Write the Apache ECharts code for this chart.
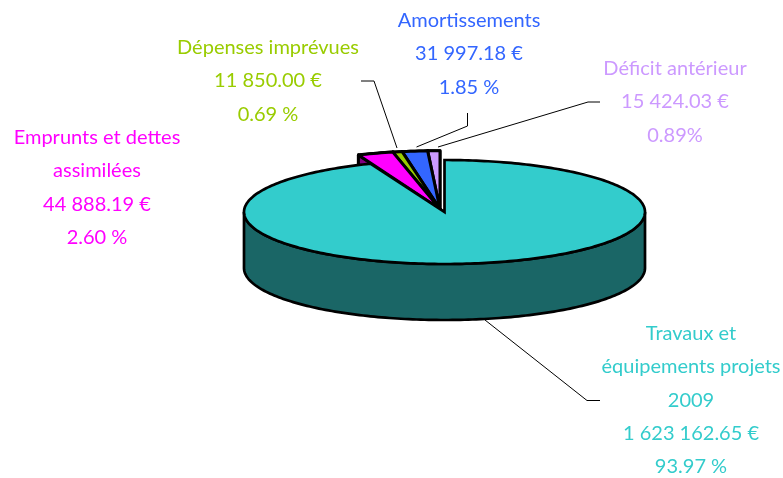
<!DOCTYPE html>
<html>
<head>
<meta charset="utf-8">
<style>
  html, body { margin: 0; padding: 0; background: #fff; }
  #chart { width: 783px; height: 478px; }
</style>
<script src="https://cdn.jsdelivr.net/npm/echarts@6/dist/echarts.min.js"></script>
</head>
<body>
<div id="chart"></div>
<script>
// valeurs, en partant de midi dans le sens horaire
const categories = ['Travaux et équipements projets 2009', 'Emprunts et dettes assimilées', 'Dépenses imprévues', 'Amortissements', 'Déficit antérieur']
const amounts = [1623162.65, 44888.19, 11850.00, 31997.18, 15424.03]
const amountLabels = ['1 623 162.65 €', '44 888.19 €', '11 850.00 €', '31 997.18 €', '15 424.03 €']
const percentLabels = ['93.97 %', '2.60 %', '0.69 %', '1.85 %', '0.89%']
const topColors = ['#33CCCC', '#FF00FF', '#99CC00', '#3366FF', '#CC99FF']
const sideColors = ['#1A6666', '#800080', '#4D6600', '#1A3380', '#664D80']

// géométrie du camembert
const center = [444.5, 212]
const rx = 200.5
const ry = 52
const depth = 56
const explodedApex = [440, 209]
const explodedScaleX = 1.1
const explodedScaleY = 1.12

const total = amounts.reduce((a, b) => a + b, 0)
const startAngles = []
amounts.reduce((acc, v, i) => { startAngles[i] = acc; return acc + v / total * Math.PI * 2 }, 0)

const arcPoints = (cx, cy, a, b, from, to) => {
  const pts = []
  const n = Math.max(2, Math.ceil((to - from) / 0.02))
  for (let i = 0; i <= n; i++) {
    const t = from + (to - from) * i / n
    pts.push([cx + a * Math.sin(t), cy - b * Math.cos(t)])
  }
  return pts
}

const face = (points, fill, lineWidth, lineJoin) => ({
  type: 'polygon',
  shape: { points },
  style: { fill, stroke: '#000', lineWidth, lineJoin }
})

const renderSlice = (params, api) => {
  const i = api.value(0)
  const from = startAngles[i]
  const to = from + api.value(1) / total * Math.PI * 2
  const main = i === 0
  const [cx, cy] = main ? center : explodedApex
  const a = main ? rx : rx * explodedScaleX
  const b = main ? ry : ry * explodedScaleY
  const lw = main ? 2.7 : 3
  // les tranches fines donneraient des pointes avec un joint en onglet
  const join = main ? 'miter' : 'round'
  const children = []
  if (main) {
    // paroi avant : moitié basse de l'ellipse
    const wallTop = arcPoints(cx, cy, a, b, Math.PI / 2, Math.PI * 1.5)
    const wallBottom = wallTop.map(p => [p[0], p[1] + depth]).reverse()
    children.push(face(wallTop.concat(wallBottom), sideColors[i], lw, join))
  } else {
    // paroi extérieure puis face coupée gauche
    const wallTop = arcPoints(cx, cy, a, b, from, to)
    const wallBottom = wallTop.map(p => [p[0], p[1] + depth]).reverse()
    children.push(face(wallTop.concat(wallBottom), sideColors[i], lw, join))
    const p = wallTop[0]
    children.push(face([[cx, cy], p, [p[0], p[1] + depth], [cx, cy + depth]], sideColors[i], lw, join))
  }
  children.push(face([[cx, cy]].concat(arcPoints(cx, cy, a, b, from, to)), topColors[i], lw, join))
  return { type: 'group', children }
}

// ordre de dessin : de l'arrière vers l'avant
const drawOrder = [4, 3, 2, 1, 0]

const labelFont = 'Lato, "Open Sans", sans-serif'
const label = (x, y, lines, color) => ({
  type: 'text',
  x, y,
  style: {
    text: lines.join('\n'),
    fill: color,
    font: '20px ' + labelFont,
    lineHeight: 33.3,
    align: 'center',
    verticalAlign: 'top'
  }
})
const leader = points => ({
  type: 'polyline',
  shape: { points },
  style: { stroke: '#000', lineWidth: 1, fill: null },
  z: 5
})

const chart = echarts.init(document.getElementById('chart'), null, { renderer: 'canvas' })
chart.setOption({
  animation: false,
  backgroundColor: '#fff',
  series: [{
    type: 'custom',
    coordinateSystem: 'none',
    renderItem: renderSlice,
    silent: true,
    dimensions: ['index', 'amount'],
    data: drawOrder.map(i => [i, amounts[i]])
  }],
  graphic: [
    leader([[361, 81], [374, 81], [397, 148]]),
    leader([[416.5, 147], [467.5, 126], [467.5, 113]]),
    leader([[438, 147], [588, 102], [600, 102]]),
    leader([[485, 320], [587, 400.5], [600, 400.5]]),
    label(691, 317, ['Travaux et', 'équipements projets', '2009', amountLabels[0], percentLabels[0]], topColors[0]),
    label(97, 121, ['Emprunts et dettes', 'assimilées', amountLabels[1], percentLabels[1]], topColors[1]),
    label(268, 31, ['Dépenses imprévues', amountLabels[2], percentLabels[2]], topColors[2]),
    label(469, 4, ['Amortissements', amountLabels[3], percentLabels[3]], topColors[3]),
    label(675, 52, ['Déficit antérieur', amountLabels[4], percentLabels[4]], topColors[4])
  ]
})
</script>
</body>
</html>
